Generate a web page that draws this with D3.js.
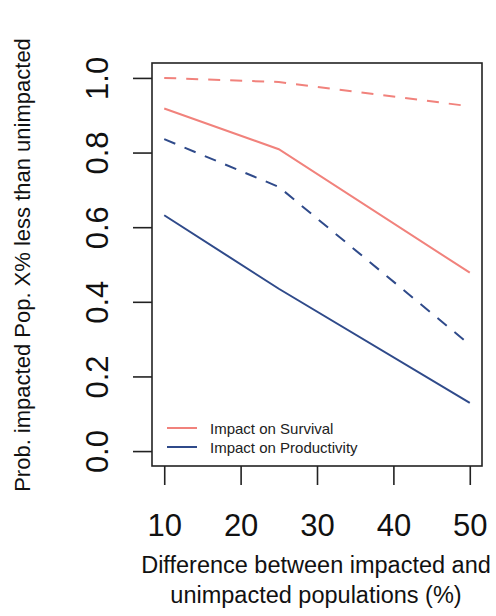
<!DOCTYPE html>
<html>
<head>
<meta charset="utf-8">
<script src="https://cdn.jsdelivr.net/npm/d3@7"></script>
<style>
  html, body { margin: 0; padding: 0; background: #fff; }
  svg { display: block; font-family: "Liberation Sans", Arial, sans-serif; }
</style>
</head>
<body>
<svg id="chart" width="496" height="616"></svg>
<script>
// ---- data ----
const differences = [10, 25, 50];
const survivalSolid = [0.918, 0.809, 0.478];
const survivalDashed = [1.0, 0.989, 0.924];
const productivitySolid = [0.632, 0.435, 0.129];
const productivityDashed = [0.836, 0.708, 0.285];
const xTicks = [10, 20, 30, 40, 50];
const yTicks = [0.0, 0.2, 0.4, 0.6, 0.8, 1.0];
const legendLabels = ["Impact on Survival", "Impact on Productivity"];

const red = "#F1827C";
const blue = "#2F4A8A";

const svg = d3.select("#chart");
const x = d3.scaleLinear().domain([8.4, 51.6]).range([152, 482]);
const y = d3.scaleLinear().domain([-0.04, 1.04]).range([466, 63]);

// series
const series = [
  { values: survivalDashed, color: red, dash: "12,10" },
  { values: survivalSolid, color: red, dash: null },
  { values: productivityDashed, color: blue, dash: "12,10" },
  { values: productivitySolid, color: blue, dash: null }
];
const line = d3.line().x(d => x(d[0])).y(d => y(d[1]));
series.forEach(s => {
  svg.append("path")
    .datum(differences.map((d, i) => [d, s.values[i]]))
    .attr("d", line)
    .attr("fill", "none")
    .attr("stroke", s.color)
    .attr("stroke-width", 2)
    .attr("stroke-dasharray", s.dash);
});

// box
svg.append("rect")
  .attr("x", x.range()[0]).attr("y", y.range()[1])
  .attr("width", x.range()[1] - x.range()[0])
  .attr("height", y.range()[0] - y.range()[1])
  .attr("fill", "none").attr("stroke", "#222").attr("stroke-width", 1.6);

// x axis
const xAxis = svg.append("g")
  .attr("transform", `translate(0,${y.range()[0]})`)
  .call(d3.axisBottom(x).tickValues(xTicks).tickSize(19).tickSizeOuter(0).tickPadding(51).tickFormat(d3.format("d")));
xAxis.select(".domain").remove();
xAxis.selectAll(".tick line").attr("stroke", "#222").attr("stroke-width", 1.6);
xAxis.selectAll(".tick text")
  .attr("font-size", 31).attr("fill", "#111")
  .attr("font-family", "Liberation Sans, Arial, sans-serif")
  .attr("dy", "0");

// y axis
const yAxis = svg.append("g")
  .attr("transform", `translate(${x.range()[0]},0)`)
  .call(d3.axisLeft(y).tickValues(yTicks).tickSize(19).tickSizeOuter(0).tickFormat(d3.format(".1f")));
yAxis.select(".domain").remove();
yAxis.selectAll(".tick line").attr("stroke", "#222").attr("stroke-width", 1.6);
yAxis.selectAll(".tick text")
  .attr("font-size", 31).attr("fill", "#111")
  .attr("font-family", "Liberation Sans, Arial, sans-serif")
  .attr("x", null).attr("dy", null)
  .attr("text-anchor", "middle")
  .attr("transform", "translate(-44,0) rotate(-90)");

// axis titles
svg.append("text")
  .attr("x", 316).attr("y", 573)
  .attr("text-anchor", "middle").attr("font-size", 23.5).attr("fill", "#111")
  .text("Difference between impacted and");
svg.append("text")
  .attr("x", 316).attr("y", 603)
  .attr("text-anchor", "middle").attr("font-size", 23.5).attr("fill", "#111")
  .text("unimpacted populations (%)");
svg.append("text")
  .attr("transform", "translate(30,265) rotate(-90)")
  .attr("text-anchor", "middle").attr("font-size", 22).attr("fill", "#111")
  .text("Prob. impacted Pop. X% less than unimpacted");

// legend
const legend = svg.append("g");
[red, blue].forEach((c, i) => {
  const ly = 428 + i * 19;
  legend.append("line")
    .attr("x1", 167).attr("x2", 197).attr("y1", ly).attr("y2", ly)
    .attr("stroke", c).attr("stroke-width", 2);
  legend.append("text")
    .attr("x", 210).attr("y", ly + 5.5)
    .attr("font-size", 15).attr("fill", "#222")
    .text(legendLabels[i]);
});
</script>
</body>
</html>
